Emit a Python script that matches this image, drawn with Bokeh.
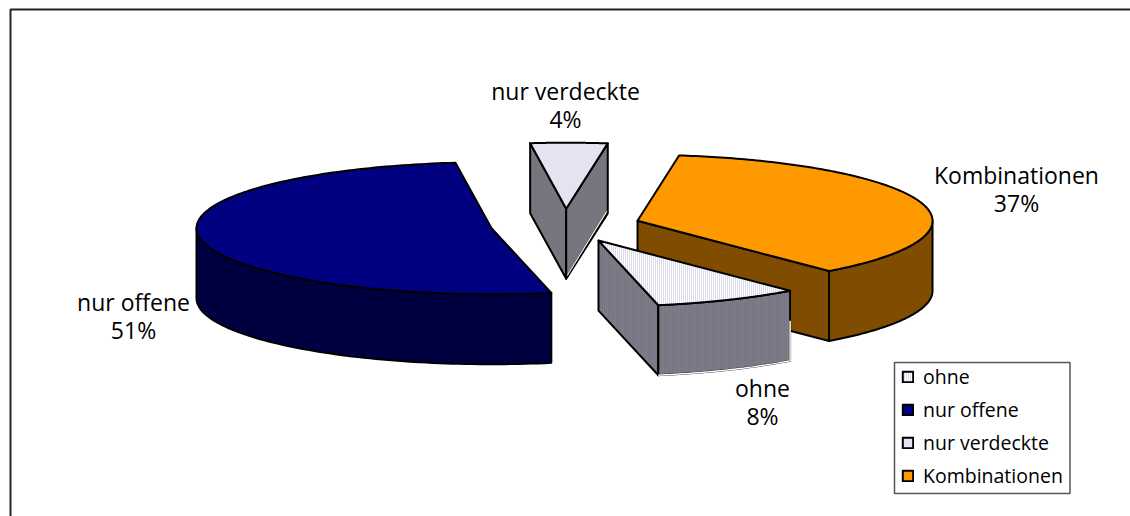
import numpy as np
from bokeh.core.properties import value
from bokeh.embed import file_html
from bokeh.models import Legend, LegendItem, Range1d
from bokeh.plotting import figure
from bokeh.resources import INLINE

# ---- data ----
categories = ["ohne", "nur offene", "nur verdeckte", "Kombinationen"]
shares = [8.0, 51.3, 4.2, 36.5]
percent_labels = ["8%", "51%", "4%", "37%"]

# ---- styling ----
TOP = {"ohne": "#FFFFFF", "nur offene": "#000080", "nur verdeckte": "#E3E3F1", "Kombinationen": "#FF9900"}
SIDE = {"ohne": "#76767F", "nur offene": "#000040", "nur verdeckte": "#76767E", "Kombinationen": "#804D00"}
FONT = "Open Sans"
LABEL_CENTRES = {"ohne": (762, 387), "nur offene": (133, 301),
                 "nur verdeckte": (565, 90), "Kombinationen": (1016, 174)}
CX, CY, A, B, DEPTH, EXPLODE, START = 565, 225, 295, 66, 70, 75, 139.5
LINE_GAP = 28

p = figure(width=1130, height=516, output_backend="svg", toolbar_location=None,
           x_range=Range1d(0, 1130), y_range=Range1d(516, 0), min_border=0,
           background_fill_color="white", border_fill_color="white", outline_line_color=None)
p.xaxis.visible = False
p.yaxis.visible = False
p.grid.visible = False

p.line([10, 10, 1130], [516, 9, 9], line_color="#222222", line_width=2)


def pt(theta, cx, cy, r=1.0, dz=0.0):
    t = np.radians(theta)
    return cx + r * A * np.sin(t), cy - r * B * np.cos(t) + dz


slices = []
angle = START
for name, share in zip(categories, shares):
    span = share * 3.6
    mid = angle + span / 2
    ax, ay = pt(mid, CX, CY, EXPLODE / A)
    a0 = angle - 360 if angle >= 360 else angle
    slices.append(dict(name=name, a0=a0, a1=a0 + span, ax=ax, ay=ay))
    angle += span

top_renderers = {}
for s in sorted(slices, key=lambda d: d["ay"]):
    name, a0, a1, ax, ay = s["name"], s["a0"], s["a1"], s["ax"], s["ay"]
    side_style = dict(fill_color=SIDE[name], line_color="black", line_width=2, line_join="round")
    if name == "ohne":
        side_style.update(hatch_pattern="vertical_line", hatch_color="#9A9AC8", hatch_alpha=0.4,
                          hatch_scale=2, hatch_weight=1)
    # radial walls that face the viewer
    for th, visible in ((a0, np.sin(np.radians(a0)) < 0), (a1, np.sin(np.radians(a1)) > 0)):
        if visible:
            ex, ey = pt(th, ax, ay)
            p.patch([ax, ex, ex, ax], [ay, ey, ey + DEPTH, ay + DEPTH], **side_style)
            if name == "nur verdeckte" and th == a1:
                p.line([ax + 1, ex - 1], [ay + DEPTH - 3, ey + DEPTH - 2], line_color="white", line_width=1)
    # outer rim: the part of the arc at the front of the ellipse
    lo2, hi2 = max(a0, 90), min(a1, 270)
    if lo2 < hi2:
        th = np.linspace(lo2, hi2, 80)
        xs, ys = pt(th, ax, ay)
        p.patch(np.r_[xs, xs[::-1]], np.r_[ys, ys[::-1] + DEPTH], **side_style)
        if name == "ohne":
            p.line(np.r_[xs[0], xs], np.r_[ys[0] + 30, ys + DEPTH], line_color="white", line_width=1.5)
    # top face
    th = np.linspace(a0, a1, 160)
    xs, ys = pt(th, ax, ay)
    top_style = dict(fill_color=TOP[name], line_color="black", line_width=2, line_join="round")
    if name == "ohne":
        top_style.update(hatch_pattern="vertical_line", hatch_color="#9A9AC8", hatch_alpha=0.7,
                         hatch_scale=2, hatch_weight=1)
    top_renderers[name] = p.patch(np.r_[ax, xs], np.r_[ay, ys], **top_style)

for name, pct in zip(categories, percent_labels):
    x, y = LABEL_CENTRES[name]
    p.text([x, x], [y, y + LINE_GAP], text=[name, pct], text_align="center", text_baseline="middle",
           text_font=value(FONT), text_font_size="23px", text_color="#000000")

# legend frame (the legend's own box is larger than the reference's because of font metrics)
p.quad(left=[894], right=[1069.5], top=[362], bottom=[493], fill_color="white",
       line_color="#555555", line_width=1.5)

legend = Legend(items=[LegendItem(label=c, renderers=[top_renderers[c]]) for c in categories],
                location=(901, 27), orientation="vertical",
                label_text_font=FONT, label_text_font_size="19.5px", label_text_color="#000000",
                glyph_width=13, glyph_height=13, label_standoff=9, spacing=6, padding=7, margin=0,
                border_line_color=None, background_fill_alpha=0, label_height=19)
p.add_layout(legend, "center")

open("out.html", "w").write(file_html(p, INLINE))
